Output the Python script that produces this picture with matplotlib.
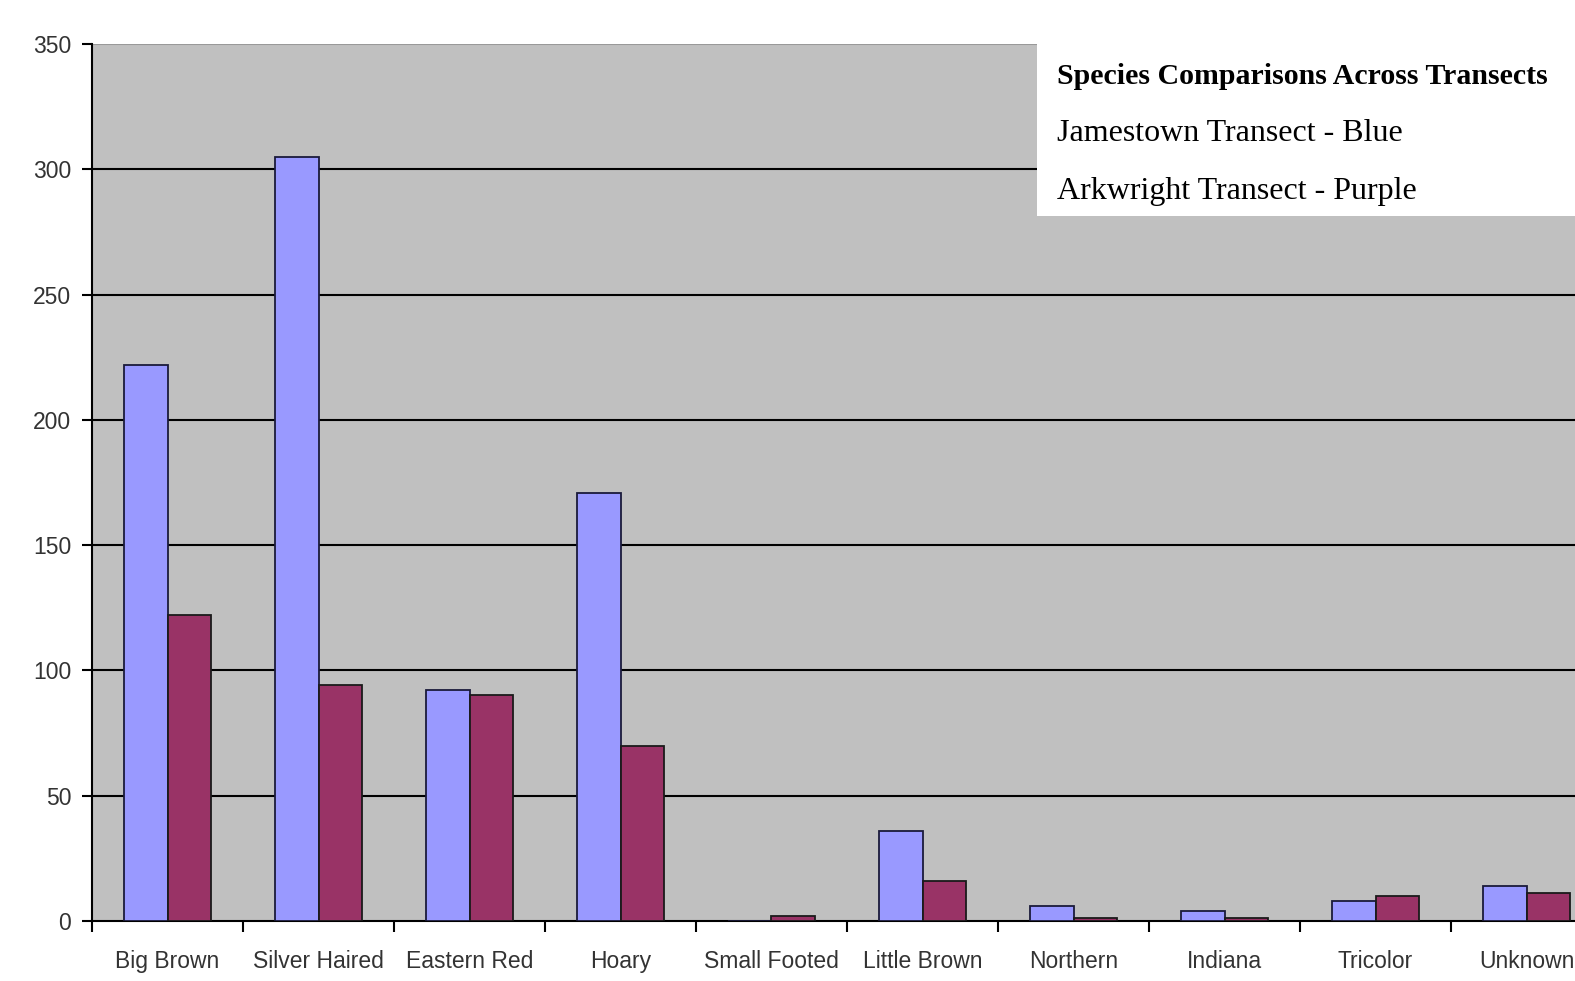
import matplotlib.pyplot as plt
from matplotlib.patches import Rectangle
import numpy as np

species = ['Big Brown', 'Silver Haired', 'Eastern Red', 'Hoary', 'Small Footed',
           'Little Brown', 'Northern', 'Indiana', 'Tricolor', 'Unknown']
jamestown = [222, 305, 92, 171, 0, 36, 6, 4, 8, 14]
arkwright = [122, 94, 90, 70, 2, 16, 1, 1, 10, 11]
y_ticks = [0, 50, 100, 150, 200, 250, 300, 350]

W, H = 1575, 981
fig = plt.figure(figsize=(W / 100, H / 100), dpi=100)
fig.patch.set_facecolor('white')

# plot area runs past the right edge like the cropped original
ax = fig.add_axes([92 / W, 1 - 921 / H, 1510 / W, 877 / H])
ax.set_facecolor('#C0C0C0')

x = np.arange(len(species))
bw = 0.29
ax.bar(x - bw / 2, jamestown, bw, color='#9999FF', edgecolor='#1a1a3a', linewidth=1.3, zorder=3)
ax.bar(x + bw / 2, arkwright, bw, color='#993366', edgecolor='#1a1a1a', linewidth=1.3, zorder=3)

ax.set_xlim(-0.5, len(species) - 0.5)
ax.set_ylim(0, 350)

for v in y_ticks[1:-1]:
    ax.axhline(v, color='black', linewidth=1.5, zorder=1)

ax.set_yticks(y_ticks)
ax.set_yticklabels([str(v) for v in y_ticks], fontsize=16.5, color='#333333',
                   family='Liberation Sans')
ax.tick_params(axis='y', direction='out', length=7, width=1.5, pad=8)

ax.set_xticks(x)
ax.set_xticklabels(species, fontsize=16.5, color='#333333', family='Liberation Sans')
ax.tick_params(axis='x', which='major', length=0, pad=21)
ax.set_xticks(np.arange(len(species) + 1) - 0.5, minor=True)
ax.tick_params(axis='x', which='minor', direction='out', length=8, width=1.5)

for s in ['top', 'right']:
    ax.spines[s].set_visible(False)
for s in ['left', 'bottom']:
    ax.spines[s].set_linewidth(1.5)
    ax.spines[s].set_color('black')
ax.axhline(350, color='#999999', linewidth=1.5, zorder=1)

# white text box with the key
fig.patches.append(Rectangle((1037 / W, 1 - 216 / H), 600 / W, 172 / H,
                             transform=fig.transFigure, facecolor='white',
                             edgecolor='none', zorder=5))
fig.text(1057 / W, 1 - 84 / H, 'Species Comparisons Across Transects',
         fontsize=21.5, fontweight='bold', family='Liberation Serif', va='baseline', zorder=6)
fig.text(1057 / W, 1 - 141 / H, 'Jamestown Transect - Blue',
         fontsize=23, family='Liberation Serif', va='baseline', zorder=6)
fig.text(1057 / W, 1 - 199 / H, 'Arkwright Transect - Purple',
         fontsize=23, family='Liberation Serif', va='baseline', zorder=6)

fig.savefig('out.png', dpi=100)
